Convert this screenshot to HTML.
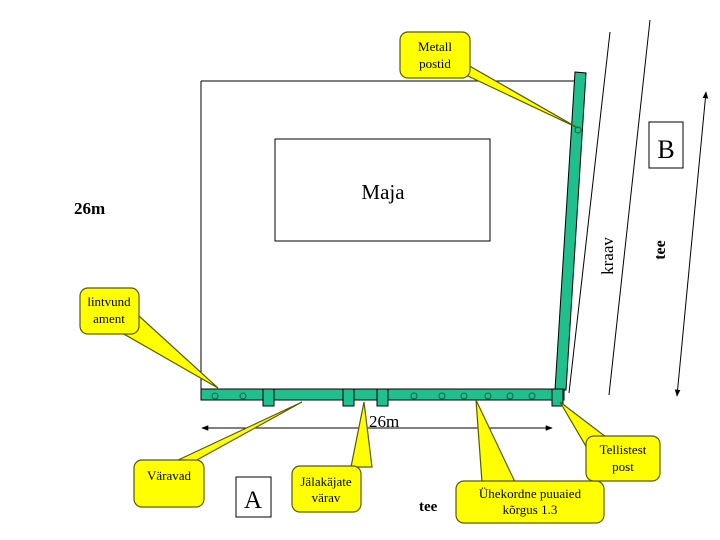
<!DOCTYPE html>
<html><head><meta charset="utf-8"><style>
html,body{margin:0;padding:0;background:#fff}
svg{display:block}
text{font-family:"Liberation Serif",serif}
</style></head><body>
<svg width="720" height="540" viewBox="0 0 720 540" xmlns="http://www.w3.org/2000/svg">
<defs>
<marker id="ar" viewBox="0 0 10 10" refX="9" refY="5" markerWidth="7" markerHeight="7" orient="auto-start-reverse"><path d="M0,1 L10,5 L0,9 z" fill="#000"/></marker>
</defs>
<line x1="201" y1="81" x2="584" y2="81" stroke="#000" stroke-width="1"/>
<line x1="201" y1="81" x2="201" y2="390" stroke="#000" stroke-width="1"/>
<rect x="275" y="139" width="215" height="102" fill="#fff" stroke="#000"/>
<text x="383" y="199" font-size="21" text-anchor="middle">Maja</text>
<line x1="610" y1="32" x2="569" y2="393" stroke="#000" stroke-width="1"/>
<line x1="650" y1="20" x2="609" y2="395" stroke="#000" stroke-width="1"/>
<line x1="706" y1="92" x2="677" y2="396" stroke="#000" stroke-width="1" marker-start="url(#ar)" marker-end="url(#ar)"/>
<rect x="649" y="122" width="34" height="46" fill="#fff" stroke="#000"/>
<text x="666" y="158" font-size="26" text-anchor="middle">B</text>
<text transform="translate(613,256) rotate(-90)" font-size="17" text-anchor="middle">kraav</text>
<text transform="translate(665,250) rotate(-90)" font-size="16" text-anchor="middle" font-weight="bold">tee</text>
<g fill="#1fc08e" stroke="#000" stroke-width="1">
<polygon points="575,72 586,73 566,390 555,390"/>
<rect x="201" y="389" width="363" height="11"/>
<rect x="263" y="389" width="11" height="17"/>
<rect x="343" y="389" width="11" height="17"/>
<rect x="377" y="389" width="11" height="17"/>
<rect x="552" y="389" width="11" height="17"/>
</g>
<g fill="none" stroke="#064" stroke-width="1">
<circle cx="215" cy="396" r="3"/><circle cx="243" cy="396" r="3"/>
<circle cx="414" cy="396" r="3"/><circle cx="442" cy="396" r="3"/>
<circle cx="464" cy="396" r="3"/><circle cx="488" cy="396" r="3"/>
<circle cx="510" cy="396" r="3"/><circle cx="532" cy="396" r="3"/>
<circle cx="578" cy="130" r="3"/>
</g>
<line x1="202" y1="428" x2="552" y2="428" stroke="#000" marker-start="url(#ar)" marker-end="url(#ar)"/>
<text x="369" y="427" font-size="17">26m</text>
<text x="74" y="214" font-size="17" font-weight="bold">26m</text>
<rect x="236" y="477" width="35" height="40" fill="#fff" stroke="#000"/>
<text x="253" y="508" font-size="25" text-anchor="middle">A</text>
<text x="419" y="511" font-size="15" font-weight="bold">tee</text>
<g stroke="#5a5a00" stroke-width="1.2" fill="#ffff00">
<polygon points="452,56 468,76 578,128"/>
<rect x="400" y="32" width="70" height="46" rx="8"/>
<polygon points="122,333 139,316 218,388"/>
<rect x="80" y="288" width="59" height="46" rx="8"/>
<polygon points="176,461 195,461 302,402"/>
<rect x="134" y="460" width="70" height="47" rx="8"/>
<polygon points="351,467 372,467 364,402"/>
<rect x="292" y="466" width="69" height="46" rx="8"/>
<polygon points="482,482 515,482 476,400"/>
<rect x="456" y="481" width="148" height="42" rx="8"/>
<polygon points="587,448 606,437 560,402"/>
<rect x="586" y="436" width="74" height="45" rx="8"/>
</g>
<g fill="#ffff00">
<rect x="401" y="33" width="68" height="44" rx="7"/>
<rect x="81" y="289" width="57" height="44" rx="7"/>
<rect x="135" y="461" width="68" height="45" rx="7"/>
<rect x="293" y="467" width="67" height="44" rx="7"/>
<rect x="457" y="482" width="146" height="40" rx="7"/>
<rect x="587" y="437" width="72" height="43" rx="7"/>
</g>
<g font-size="13" text-anchor="middle" fill="#000">
<text x="435" y="51">Metall</text><text x="435" y="68">postid</text>
<text x="109" y="306">lintvund</text><text x="109" y="323">ament</text>
<text x="169" y="480">Väravad</text>
<text x="326" y="486">Jälakäjate</text><text x="326" y="502">värav</text>
<text x="530" y="498">Ühekordne puuaied</text><text x="530" y="514">kõrgus 1.3</text>
<text x="623" y="454">Tellistest</text><text x="623" y="471">post</text>
</g>
</svg>
</body></html>
